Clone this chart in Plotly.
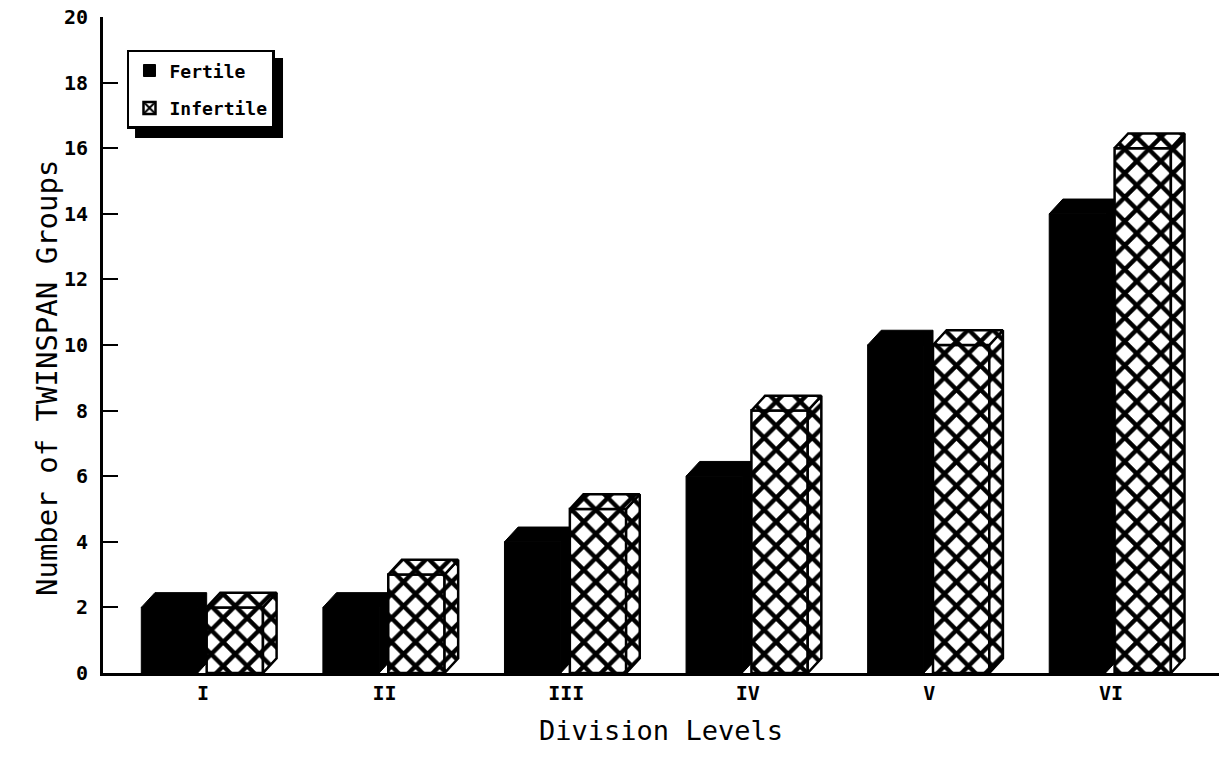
import plotly.graph_objects as go

# Division levels and number of TWINSPAN groups per level
levels = ["I", "II", "III", "IV", "V", "VI"]
fertile = [2, 2, 4, 6, 10, 14]
infertile = [2, 3, 5, 8, 10, 16]

xs = list(range(len(levels)))

# bar geometry (category units / y units)
W = 0.31          # front face width
F_OFF = -0.34     # fertile left edge relative to category
I_OFF = 0.02      # infertile left edge relative to category
DX = 0.075        # depth offset to the right
DY = 0.45         # depth offset upwards

hatch = dict(shape="x", size=17, solidity=0.45, fgcolor="black",
             bgcolor="white", fgopacity=1)

fig = go.Figure()

fig.add_trace(go.Bar(
    x=xs, y=fertile, width=W, offset=F_OFF, name="Fertile",
    legendgroup="f",
    marker=dict(color="black", line=dict(color="black", width=1)),
))
fig.add_trace(go.Bar(
    x=xs, y=infertile, width=W, offset=I_OFF, name="Infertile",
    legendgroup="i",
    marker=dict(color="white", pattern=hatch, line=dict(color="black", width=2.5)),
))

# depth of the fertile bars, cut where the infertile front face begins
fx, fy = [], []
for x, v in zip(xs, fertile):
    fl = x + F_OFF
    fr = fl + W
    hl = x + I_OFF
    yb = (hl - fr) / DX * DY
    fx += [fl, fl + DX, hl, hl, fr, fr, fl, None]
    fy += [v, v + DY, v + DY, yb, 0, v, v, None]
fig.add_trace(go.Scatter(
    x=fx, y=fy, mode="lines", fill="toself", fillcolor="black",
    line=dict(color="black", width=1), showlegend=False, hoverinfo="skip",
))

# top and side faces of the infertile bars
tx, ty, sx, sy = [], [], [], []
for x, v in zip(xs, infertile):
    hl = x + I_OFF
    hr = hl + W
    tx += [hl, hl + DX, hr + DX, hr, hl, None]
    ty += [v, v + DY, v + DY, v, v, None]
    sx += [hr, hr + DX, hr + DX, hr, hr, None]
    sy += [0, DY, v + DY, v, 0, None]
for px, py in ((sx, sy), (tx, ty)):
    fig.add_trace(go.Scatter(
        x=px, y=py, mode="lines", fill="toself", fillcolor="white",
        fillpattern=hatch, line=dict(color="black", width=2.5),
        showlegend=False, hoverinfo="skip",
    ))

mono = "DejaVu Sans Mono"

fig.update_layout(
    width=1219, height=763,
    margin=dict(l=103, r=0, t=17, b=90),
    paper_bgcolor="white", plot_bgcolor="white",
    barmode="overlay",
    showlegend=True,
    legend=dict(
        x=0.0215, y=0.95, xanchor="left", yanchor="top",
        bgcolor="white", bordercolor="black", borderwidth=2.5,
        font=dict(family=mono, size=18, color="black", weight="bold"),
        itemwidth=30, tracegroupgap=11,
    ),
    xaxis=dict(
        range=[-0.551, 5.595], tickvals=xs, ticktext=levels,
        showline=True, linecolor="black", linewidth=3,
        showgrid=False, zeroline=False, ticks="",
        tickfont=dict(family=mono, size=20, color="black", weight="bold"),
        title=dict(text="Division Levels", standoff=18,
                   font=dict(family=mono, size=27, color="black")),
    ),
    yaxis=dict(
        range=[0, 20], tickvals=list(range(0, 21, 2)),
        showline=True, linecolor="black", linewidth=3,
        showgrid=False, zeroline=False,
        ticks="inside", ticklen=15, tickwidth=2, tickcolor="black",
        ticklabelstandoff=8,
        tickfont=dict(family=mono, size=20, color="black", weight="bold"),
    ),
    annotations=[dict(
        text="Number of TWINSPAN Groups", textangle=-90,
        xref="paper", yref="paper", x=-0.067, y=0.45,
        showarrow=False, font=dict(family=mono, size=29, color="black"),
    )],
    shapes=[dict(
        type="rect", xref="paper", yref="paper",
        x0=0.0287, x1=0.1613, y0=0.8155, y1=0.9375,
        fillcolor="black", line=dict(width=0), layer="above",
    )],
)

fig.write_html("out.html")
